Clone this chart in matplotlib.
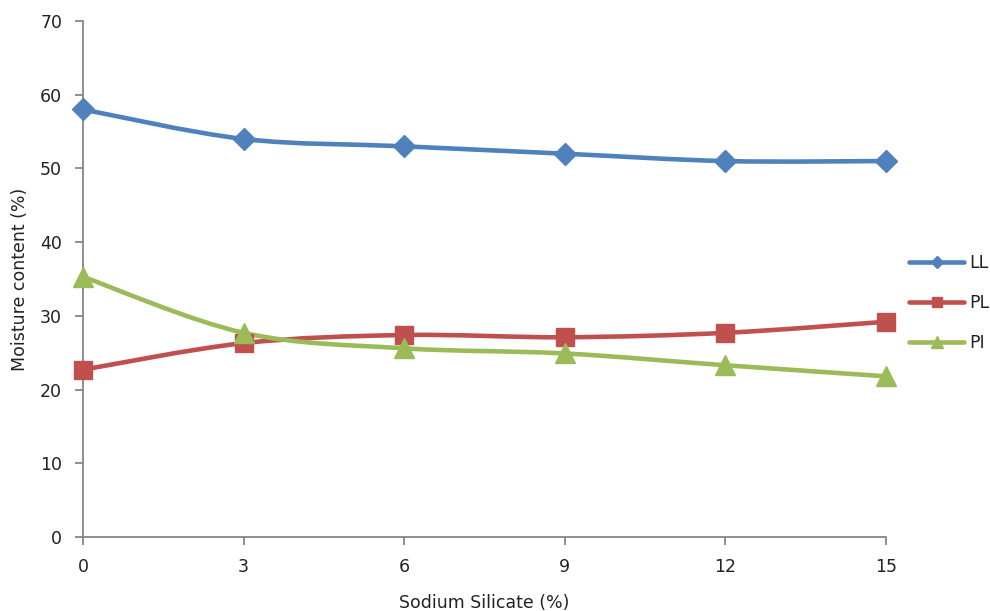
import matplotlib
matplotlib.use("Agg")
import matplotlib.pyplot as plt
from matplotlib.path import Path
from matplotlib.patches import PathPatch
from matplotlib.lines import Line2D

plt.rcParams["font.family"] = ["DejaVu Sans"]

sodium_silicate = [0, 3, 6, 9, 12, 15]
ll = [58.0, 54.0, 53.0, 52.0, 51.0, 51.0]
pl = [22.7, 26.3, 27.4, 27.1, 27.7, 29.2]
pi = [35.3, 27.7, 25.6, 24.9, 23.3, 21.8]

series = [
    ("LL", ll, "#4F81BD", "D", 11),
    ("PL", pl, "#C0504D", "s", 13),
    ("PI", pi, "#9BBB59", "^", 14),
]

AXIS_GREY = "#868686"
TEXT = "#222222"
FS = 12.5


def smooth_path(xs, ys):
    # Excel-like smoothed line: cubic Bezier through the points
    pts = list(zip(xs, ys))
    n = len(pts)
    verts = [pts[0]]
    codes = [Path.MOVETO]
    for i in range(n - 1):
        p0 = pts[i - 1] if i > 0 else pts[i]
        p1 = pts[i]
        p2 = pts[i + 1]
        p3 = pts[i + 2] if i + 2 < n else pts[i + 1]
        c1 = (p1[0] + (p2[0] - p0[0]) / 6, p1[1] + (p2[1] - p0[1]) / 6)
        c2 = (p2[0] - (p3[0] - p1[0]) / 6, p2[1] - (p3[1] - p1[1]) / 6)
        verts += [c1, c2, p2]
        codes += [Path.CURVE4] * 3
    return Path(verts, codes)


fig = plt.figure(figsize=(9.9, 6.11), dpi=100)
ax = fig.add_axes([0.0838, 0.1211, 0.8112, 0.8445])

handles = []
for name, vals, color, marker, ms in series:
    patch = PathPatch(smooth_path(sodium_silicate, vals), facecolor="none",
                      edgecolor=color, lw=3.3, capstyle="round",
                      joinstyle="round", zorder=3)
    ax.add_patch(patch)
    ax.plot(sodium_silicate, vals, ls="none", marker=marker, ms=ms,
            color=color, zorder=4, clip_on=False)
    handles.append(Line2D([0], [0], color=color, lw=3.3, marker=marker,
                          ms=ms * 0.6, solid_capstyle="round"))

ax.set_xlim(0, 15)
ax.set_ylim(0, 70)
ax.set_xticks(sodium_silicate)
ax.set_yticks(range(0, 71, 10))

for s in ["top", "right"]:
    ax.spines[s].set_visible(False)
for s in ["left", "bottom"]:
    ax.spines[s].set_color(AXIS_GREY)
    ax.spines[s].set_linewidth(1.3)
ax.tick_params(axis="both", colors=AXIS_GREY, width=1.3, length=6,
               labelsize=FS, labelcolor=TEXT)
ax.tick_params(axis="x", pad=9)
ax.tick_params(axis="y", pad=9)

ax.set_xlabel("Sodium Silicate (%)", fontsize=FS, color=TEXT, labelpad=13)
ax.set_ylabel("Moisture content (%)", fontsize=FS, color=TEXT, labelpad=8)

fig.legend(handles, [s[0] for s in series], loc="center left",
           bbox_to_anchor=(0.918, 0.504), frameon=False, fontsize=FS,
           borderpad=0, borderaxespad=0, handlelength=3.2,
           handletextpad=0.3, labelspacing=1.25, labelcolor=TEXT)

fig.savefig("out.png", dpi=100)
